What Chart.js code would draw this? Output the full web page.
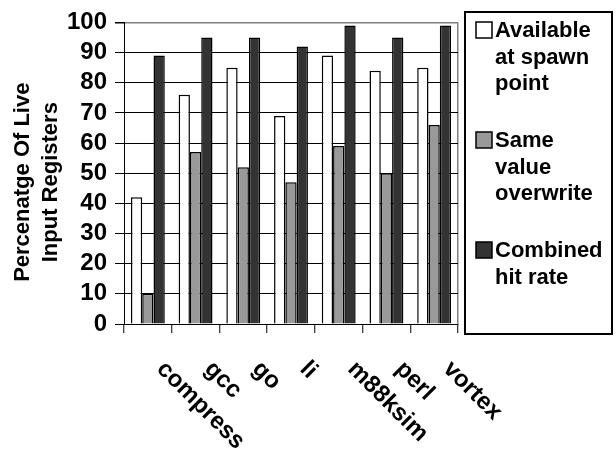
<!DOCTYPE html>
<html>
<head>
<meta charset="utf-8">
<script src="https://cdn.jsdelivr.net/npm/chart.js@4/dist/chart.umd.min.js"></script>
<style>
  body { margin: 0; background: #fff; }
</style>
</head>
<body>
<canvas id="grafico" width="616" height="456"></canvas>
<script>
const categorias = ['compress', 'gcc', 'go', 'li', 'm88ksim', 'perl', 'vortex']
const disponivel = [42, 76, 85, 69, 89, 84, 85]
const mesmoValor = [10, 57, 52, 47, 59, 50, 66]
const combinado = [89, 95, 95, 92, 99, 95, 99]
const ticksY = [0, 10, 20, 30, 40, 50, 60, 70, 80, 90, 100]
const tituloY = ['Percenatge Of Live', 'Input Registers']

const fonte = 'Liberation Sans, Arial, sans-serif'

// rotulos do eixo x desenhados inclinados para baixo (45 graus)
const rotulosX = {
  id: 'rotulosX',
  afterDraw(chart) {
    const ctx = chart.ctx
    const x = chart.scales.x
    ctx.save()
    ctx.font = 'bold 24px ' + fonte
    ctx.fillStyle = '#000'
    ctx.textAlign = 'left'
    ctx.textBaseline = 'alphabetic'
    categorias.forEach((cat, i) => {
      ctx.save()
      ctx.translate(x.getPixelForTick(i) + 8, 370)
      ctx.rotate(Math.PI / 4)
      ctx.fillText(cat, 0, 0)
      ctx.restore()
    })
    ctx.restore()
  }
}

// titulo do eixo y em duas linhas, um pouco abaixo do centro como no original
const tituloEixoY = {
  id: 'tituloEixoY',
  afterDraw(chart) {
    const ctx = chart.ctx
    const y = chart.scales.y
    ctx.save()
    ctx.font = 'bold 22px ' + fonte
    ctx.fillStyle = '#000'
    ctx.textAlign = 'center'
    ctx.textBaseline = 'middle'
    ctx.translate(23, (y.top + y.bottom) / 2 + 9)
    ctx.rotate(-Math.PI / 2)
    tituloY.forEach((linha, j) => ctx.fillText(linha, 0, j * 28))
    ctx.restore()
  }
}

// legenda em caixa a direita, com textos em varias linhas
const legenda = {
  id: 'legenda',
  afterDraw(chart) {
    const ctx = chart.ctx
    ctx.save()
    ctx.strokeStyle = '#000'
    ctx.lineWidth = 2
    ctx.strokeRect(465, 12, 147, 322)
    ctx.font = 'bold 22px ' + fonte
    ctx.textBaseline = 'alphabetic'
    let base = 37
    chart.data.datasets.forEach(ds => {
      ctx.fillStyle = ds.backgroundColor
      ctx.fillRect(476, base - 15, 16, 16)
      ctx.lineWidth = 1.5
      ctx.strokeRect(476, base - 15, 16, 16)
      ctx.fillStyle = '#000'
      ds.label.forEach((linha, j) => {
        ctx.fillText(linha, 495, base + j * 26.5)
      })
      base += ds.label.length * 26.5 + 30.5
    })
    ctx.restore()
  }
}

new Chart(document.getElementById('grafico'), {
  type: 'bar',
  data: {
    labels: categorias,
    datasets: [{
      label: ['Available', 'at spawn', 'point'],
      data: disponivel,
      backgroundColor: '#ffffff',
      borderColor: '#000',
      borderWidth: 1.5
    }, {
      label: ['Same', 'value', 'overwrite'],
      data: mesmoValor,
      backgroundColor: '#999999',
      borderColor: '#000',
      borderWidth: 1.5
    }, {
      label: ['Combined', 'hit rate'],
      data: combinado,
      backgroundColor: '#333333',
      borderColor: '#000',
      borderWidth: 1.5
    }]
  },
  options: {
    responsive: false,
    animation: false,
    layout: { padding: { left: 0, right: 158, top: 15, bottom: 0 } },
    datasets: { bar: { categoryPercentage: 0.71, barPercentage: 1 } },
    plugins: {
      legend: { display: false },
      tooltip: { enabled: false }
    },
    scales: {
      x: {
        ticks: { display: false },
        grid: {
          offset: true,
          color: c => c.type === 'scale' ? '#808080' : 'rgba(0,0,0,0)',
          lineWidth: 1.5,
          tickColor: '#000',
          tickLength: 9,
          tickWidth: 1
        },
        border: { color: '#000', width: 1 },
        afterFit: s => { s.height = 132 }
      },
      y: {
        min: 0,
        max: 100,
        afterBuildTicks: s => { s.ticks = ticksY.map(v => ({ value: v })) },
        ticks: {
          autoSkip: false,
          font: { family: fonte, size: 24, weight: 'bold' },
          color: '#000',
          padding: 8
        },
        grid: {
          color: c => c.tick && c.tick.value === 100 ? '#808080' : '#000',
          lineWidth: c => c.tick && c.tick.value === 100 ? 1.5 : 1,
          tickColor: '#000',
          tickLength: 9
        },
        border: { color: '#000', width: 1 },
        afterFit: s => { s.width = 124 }
      }
    }
  },
  plugins: [rotulosX, tituloEixoY, legenda]
})
</script>
</body>
</html>
